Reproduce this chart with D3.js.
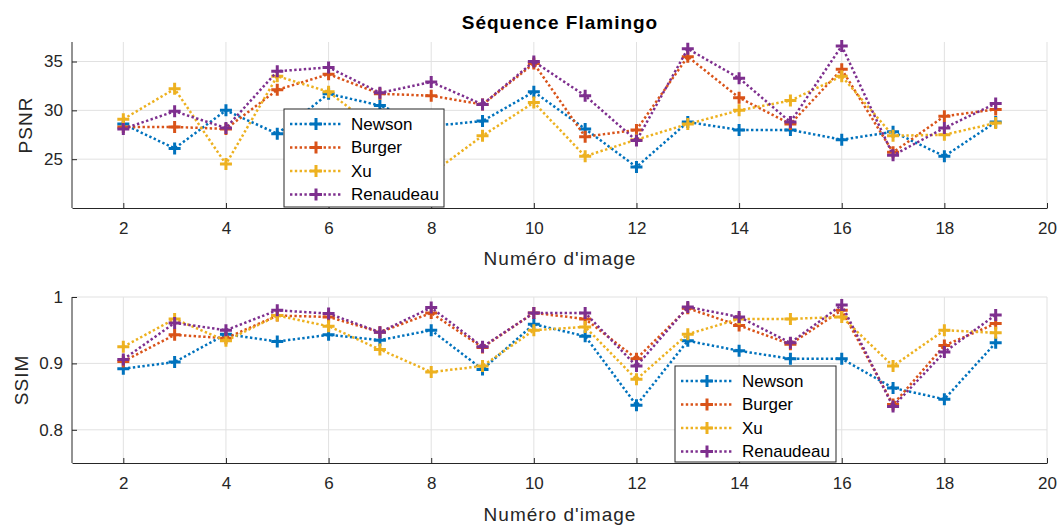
<!DOCTYPE html>
<html>
<head>
<meta charset="utf-8">
<script src="https://cdn.jsdelivr.net/npm/d3@7"></script>
<style>
  body { margin: 0; background: #fff; }
  svg { display: block; font-family: "Liberation Sans", Arial, sans-serif; }
</style>
</head>
<body>
<svg id="chart" width="1060" height="525"></svg>
<script>
const frames = [2, 3, 4, 5, 6, 7, 8, 9, 10, 11, 12, 13, 14, 15, 16, 17, 18, 19];
const methods = ["Newson", "Burger", "Xu", "Renaudeau"];
const colors = ["#0072BD", "#D95319", "#EDB120", "#7E2F8E"];

const psnrNewson = [28.6, 26.1, 30.0, 27.6, 31.7, 30.5, 28.4, 28.9, 31.9, 28.1, 24.2, 28.8, 28.0, 28.0, 27.0, 27.8, 25.3, 28.8];
const psnrBurger = [28.3, 28.3, 28.1, 32.1, 33.7, 31.7, 31.5, 30.6, 34.8, 27.3, 28.0, 35.5, 31.3, 28.6, 34.2, 25.7, 29.4, 30.1];
const psnrXu = [29.1, 32.2, 24.5, 33.5, 31.9, 27.8, 23.5, 27.4, 30.8, 25.3, 27.0, 28.6, 30.0, 31.0, 33.5, 27.4, 27.5, 28.7];
const psnrRenaudeau = [28.1, 29.9, 28.2, 34.0, 34.4, 31.8, 32.9, 30.6, 35.0, 31.5, 26.9, 36.3, 33.3, 28.8, 36.6, 25.4, 28.2, 30.7];

const ssimNewson = [0.892, 0.902, 0.944, 0.933, 0.943, 0.935, 0.950, 0.891, 0.959, 0.941, 0.837, 0.934, 0.919, 0.907, 0.907, 0.863, 0.846, 0.931];
const ssimBurger = [0.903, 0.943, 0.938, 0.972, 0.970, 0.947, 0.976, 0.924, 0.976, 0.967, 0.907, 0.983, 0.957, 0.929, 0.980, 0.838, 0.927, 0.960];
const ssimXu = [0.925, 0.967, 0.934, 0.972, 0.956, 0.921, 0.887, 0.896, 0.950, 0.955, 0.876, 0.944, 0.967, 0.967, 0.970, 0.896, 0.950, 0.946];
const ssimRenaudeau = [0.906, 0.961, 0.950, 0.980, 0.975, 0.947, 0.984, 0.925, 0.976, 0.976, 0.896, 0.985, 0.970, 0.931, 0.988, 0.835, 0.917, 0.973];

const xTicks = [2, 4, 6, 8, 10, 12, 14, 16, 18, 20];
const psnrTicks = [25, 30, 35];
const ssimTicks = [0.8, 0.9, 1];

const svg = d3.select("#chart");
const axisColor = "#262626";
const gridColor = "#e1e1e1";

const x = d3.scaleLinear().domain([1, 20]).range([72, 1047]);

function drawPanel(opts) {
  const y = d3.scaleLinear().domain(opts.yDomain).range([opts.bottom, opts.top]);
  const g = svg.append("g");

  // grid
  g.selectAll("line.vgrid").data(xTicks).join("line")
    .attr("x1", (d) => x(d)).attr("x2", (d) => x(d))
    .attr("y1", opts.top).attr("y2", opts.bottom)
    .attr("stroke", gridColor).attr("stroke-width", 1);
  g.selectAll("line.hgrid").data(opts.yTicks).join("line")
    .attr("x1", x.range()[0]).attr("x2", x.range()[1])
    .attr("y1", (d) => y(d)).attr("y2", (d) => y(d))
    .attr("stroke", gridColor).attr("stroke-width", 1);

  // axes
  const xAxis = d3.axisBottom(x).tickValues(xTicks).tickSizeInner(-5).tickSizeOuter(0).tickPadding(14);
  const xg = g.append("g").attr("transform", `translate(0,${opts.bottom})`).call(xAxis);
  const yAxis = d3.axisLeft(y).tickValues(opts.yTicks).tickSizeInner(-5).tickSizeOuter(0).tickPadding(9).tickFormat(d3.format("~g"));
  const yg = g.append("g").attr("transform", `translate(${x.range()[0]},0)`).call(yAxis);
  [xg, yg].forEach((a) => {
    a.select(".domain").attr("stroke", axisColor).attr("stroke-width", 1);
    a.selectAll(".tick line").attr("stroke", axisColor);
    a.selectAll(".tick text").attr("fill", axisColor).attr("font-size", 17);
  });
  yg.select(".domain").attr("d", `M0,${opts.bottom}V${opts.top}`);

  g.append("text").attr("x", 560).attr("y", opts.xLabelY).attr("text-anchor", "middle")
    .attr("fill", axisColor).attr("font-size", 19).attr("letter-spacing", 1).text("Numéro d'image");
  g.append("text").attr("transform", `translate(${opts.yLabelX},${(opts.top + opts.bottom) / 2}) rotate(-90)`)
    .attr("text-anchor", "middle").attr("fill", axisColor).attr("font-size", 19).attr("letter-spacing", 1).text(opts.yLabel);

  // series
  const line = d3.line().x((d, i) => x(frames[i])).y((d) => y(d));
  opts.series.forEach((vals, k) => {
    const s = g.append("g");
    s.append("path").attr("d", line(vals)).attr("fill", "none")
      .attr("stroke", colors[k]).attr("stroke-width", 2.5).attr("stroke-dasharray", "2.4,2.4");
    s.selectAll("path.m").data(vals).join("path")
      .attr("d", (d, i) => `M${x(frames[i]) - 6},${y(d)}h12M${x(frames[i])},${y(d) - 6}v12`)
      .attr("stroke", colors[k]).attr("stroke-width", 3).attr("fill", "none");
  });

  // legend
  const L = opts.legend;
  const lg = g.append("g");
  lg.append("rect").attr("x", L.x).attr("y", L.y).attr("width", L.w).attr("height", L.h)
    .attr("fill", "#fff").attr("stroke", axisColor).attr("stroke-width", 1);
  methods.forEach((name, k) => {
    const cy = L.y + 15 + k * L.step;
    lg.append("line").attr("x1", L.x + 6).attr("x2", L.x + 58).attr("y1", cy).attr("y2", cy)
      .attr("stroke", colors[k]).attr("stroke-width", 2.5).attr("stroke-dasharray", "2.4,2.4");
    const mx = L.x + 32;
    lg.append("path").attr("d", `M${mx - 6},${cy}h12M${mx},${cy - 6}v12`)
      .attr("stroke", colors[k]).attr("stroke-width", 3);
    lg.append("text").attr("x", L.x + 67).attr("y", cy).attr("dy", "0.35em")
      .attr("font-size", 17).attr("fill", "#000").text(name);
  });
}

svg.append("text").attr("x", 560).attr("y", 29).attr("text-anchor", "middle")
  .attr("font-weight", "bold").attr("font-size", 19).attr("letter-spacing", 1)
  .attr("fill", "#000").text("Séquence Flamingo");

drawPanel({
  top: 42, bottom: 208, yDomain: [20, 37], yTicks: psnrTicks, yLabel: "PSNR", yLabelX: 32, xLabelY: 265,
  series: [psnrNewson, psnrBurger, psnrXu, psnrRenaudeau],
  legend: { x: 284, y: 109, w: 160, h: 98, step: 23.5 }
});

drawPanel({
  top: 297, bottom: 463, yDomain: [0.75, 1], yTicks: ssimTicks, yLabel: "SSIM", yLabelX: 28, xLabelY: 521,
  series: [ssimNewson, ssimBurger, ssimXu, ssimRenaudeau],
  legend: { x: 675, y: 366, w: 161, h: 96, step: 23.5 }
});
</script>
</body>
</html>
